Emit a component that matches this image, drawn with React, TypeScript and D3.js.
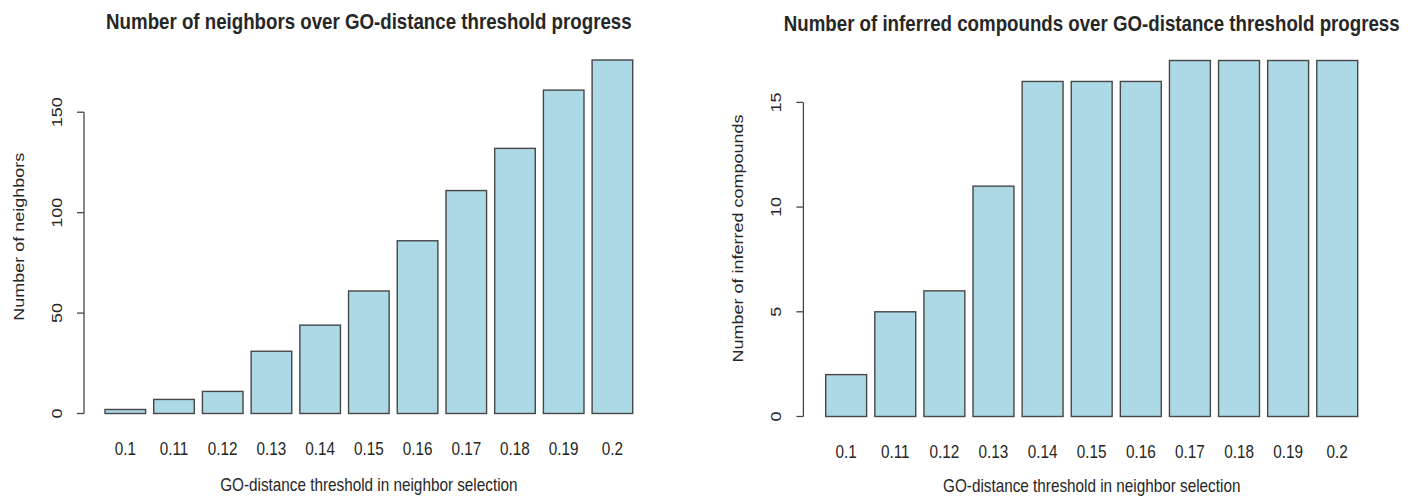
import React from "react";
import * as d3 from "d3";

const categories = ["0.1", "0.11", "0.12", "0.13", "0.14", "0.15", "0.16", "0.17", "0.18", "0.19", "0.2"];
const neighbors = [2, 7, 11, 31, 44, 61, 86, 111, 132, 161, 176];
const compounds = [2, 5, 6, 11, 16, 16, 16, 17, 17, 17, 17];
const neighborTicks = [0, 50, 100, 150];
const compoundTicks = [0, 5, 10, 15];

const FONT = "'Liberation Sans', Arial, sans-serif";
const TEXT = "#262626";
const LINE = "#474747";
const SX = 0.85; // horizontal squeeze of the original picture
const FS = 18;

type PanelProps = {
  values: number[];
  ticks: number[];
  title: string;
  yLabel: string;
  barL: number;
  barR: number;
  axisX: number;
  y0: number;
  yTop: number;
  dy: number;
};

function Panel({ values, ticks, title, yLabel, barL, barR, axisX, y0, yTop, dy }: PanelProps) {
  const maxV = d3.max(values) as number;
  const y = d3.scaleLinear().domain([0, maxV]).range([y0, yTop]);
  const x = d3.scaleBand<string>().domain(categories).range([barL, barR]).paddingInner(1 / 6).paddingOuter(0);
  const unit = x.bandwidth();
  const plotL = barL - 0.52 * unit;
  const plotR = barR + 0.52 * unit;
  const cx = (plotL + plotR) / 2;
  const cy = (y(-maxV * 0.04) + y(maxV * 1.04)) / 2;
  return (
    <g>
      <text
        transform={`translate(${cx},${29 + dy}) scale(${SX},1)`}
        textAnchor="middle"
        fontWeight="bold"
        fontSize={22}
        fill={TEXT}
        fontFamily={FONT}
      >
        {title}
      </text>
      {values.map((v, i) => (
        <rect
          key={i}
          x={x(categories[i])}
          y={y(v)}
          width={x.bandwidth()}
          height={y(0) - y(v)}
          fill="#ADD8E6"
          stroke={LINE}
          strokeWidth={1.4}
        />
      ))}
      <line x1={axisX} x2={axisX} y1={y(ticks[0])} y2={y(ticks[ticks.length - 1])} stroke={LINE} strokeWidth={1.3} />
      {ticks.map((t) => (
        <g key={t}>
          <line x1={axisX - 7} x2={axisX} y1={y(t)} y2={y(t)} stroke={LINE} strokeWidth={1.3} />
          <text
            transform={`translate(${axisX - 22.4},${y(t)}) scale(${SX},1) rotate(-90)`}
            textAnchor="middle"
            fontSize={FS}
            fill={TEXT}
            fontFamily={FONT}
          >
            {t}
          </text>
        </g>
      ))}
      {categories.map((c) => (
        <text
          key={c}
          transform={`translate(${(x(c) as number) + x.bandwidth() / 2},${y0 + 41}) scale(${SX},1)`}
          textAnchor="middle"
          fontSize={FS}
          fill={TEXT}
          fontFamily={FONT}
        >
          {c}
        </text>
      ))}
      <text
        transform={`translate(${cx},${491 + dy / 2}) scale(${SX},1)`}
        textAnchor="middle"
        fontSize={FS}
        fill={TEXT}
        fontFamily={FONT}
      >
        GO-distance threshold in neighbor selection
      </text>
      <text
        transform={`translate(${axisX - 60},${cy}) scale(${SX},1) rotate(-90)`}
        textAnchor="middle"
        fontSize={FS}
        fill={TEXT}
        fontFamily={FONT}
      >
        {yLabel}
      </text>
    </g>
  );
}

export default function App() {
  return (
    <svg width={1410} height={496} style={{ position: "absolute", left: 0, top: 0, background: "#fff" }}>
      <rect x={0} y={0} width={1410} height={496} fill="#fff" />
      <Panel
        values={neighbors}
        ticks={neighborTicks}
        title="Number of neighbors over GO-distance threshold progress"
        yLabel="Number of neighbors"
        barL={105}
        barR={632.7}
        axisX={84}
        y0={413.5}
        yTop={60}
        dy={0}
      />
      <Panel
        values={compounds}
        ticks={compoundTicks}
        title="Number of inferred compounds over GO-distance threshold progress"
        yLabel="Number of inferred compounds"
        barL={825.7}
        barR={1357.7}
        axisX={803.4}
        y0={416.5}
        yTop={60.5}
        dy={2}
      />
    </svg>
  );
}
